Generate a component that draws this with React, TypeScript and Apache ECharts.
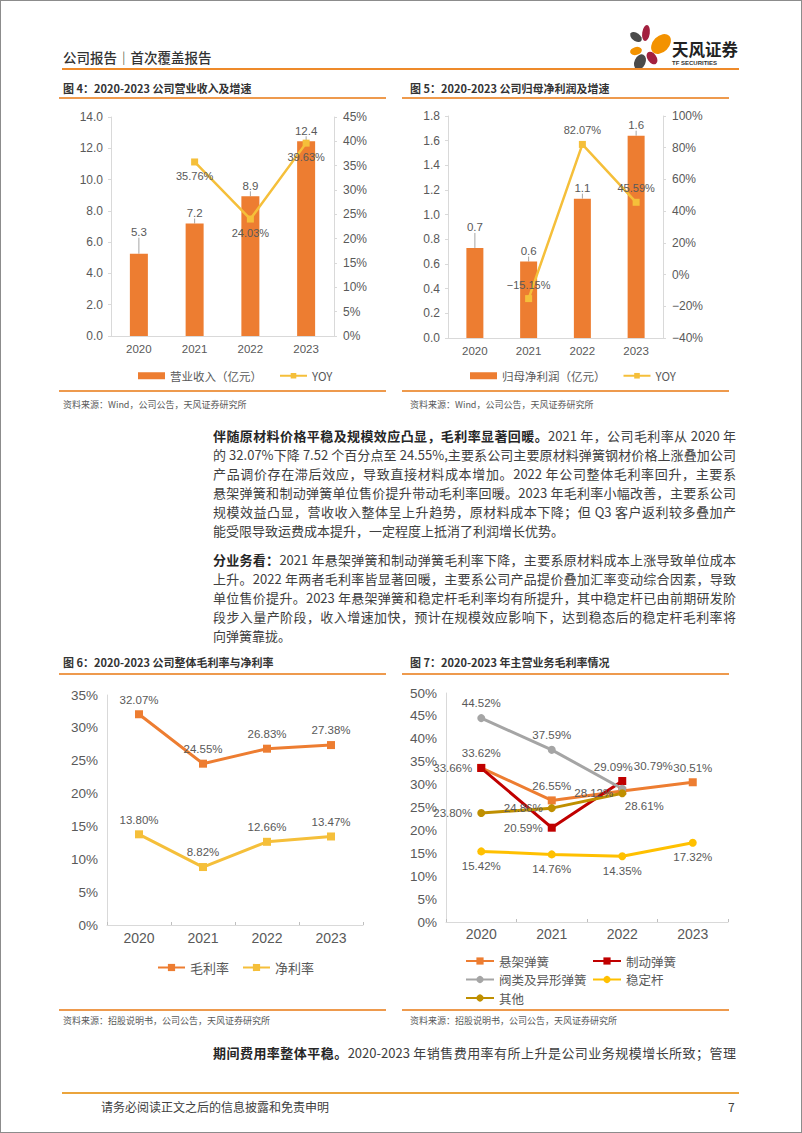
import React, { useEffect, useRef } from "react";
import * as echarts from "echarts";

// ---------- data ----------
const years = ["2020", "2021", "2022", "2023"];
const revenue = [5.26, 7.19, 8.93, 12.45];
const revenueYoy = [null, 35.76, 24.03, 39.63];
const profit = [0.73, 0.62, 1.13, 1.64];
const profitYoy = [null, -15.15, 82.07, 45.59];
const grossMargin = [32.07, 24.55, 26.83, 27.38];
const netMargin = [13.8, 8.82, 12.66, 13.47];
const suspension = [33.66, 26.55, 28.61, 30.51];
const brake = [33.62, 20.59, 30.79, null];
const valve = [44.52, 37.59, 29.09, null];
const stabilizer = [15.42, 14.76, 14.35, 17.32];
const others = [23.8, 24.86, 28.12, null];

const FONT = 'Arial, "Liberation Sans", "Noto Sans CJK SC", sans-serif';
const CJK = '"Noto Sans CJK SC", "Liberation Sans", sans-serif';
const GRAY = "#595959";
const AXIS = "#D9D9D9";
const ORANGE = "#ED7D31";
const GOLD = "#F5BF3A";

const pct = (v: number) => (v < 0 ? "\u2212" + Math.abs(v).toFixed(2) : v.toFixed(2)) + "%";
const axisPct = (v: number) => (v < 0 ? "\u2212" + Math.abs(v) : String(v)) + "%";

// label placement for figure 7 (styling only)
const c7Place: Record<string, any[]> = {
  susp: [["left", [0, 0]], ["top", [0, 0]], ["bottom", [22, 0]], ["top", [0, 0]]],
  brake: [["top", [0, 0]], ["left", [0, 0]], ["top", [31, 0]], ["top", [0, 0]]],
  valve: [["top", [0, 0]], ["top", [0, 0]], ["top", [-9, -7]], ["top", [0, 0]]],
  stab: [["bottom", [0, 0]], ["bottom", [0, 0]], ["bottom", [0, 0]], ["bottom", [0, 0]]],
  other: [["left", [0, 0]], ["left", [0, 0]], ["left", [0, 0]], ["left", [0, 0]]],
};

function withPlace(values: (number | null)[], key: string) {
  return values.map((v, i) =>
    v == null
      ? null
      : { value: v, label: { position: c7Place[key][i][0], offset: c7Place[key][i][1] } }
  );
}

const baseLabel = { color: GRAY, fontFamily: FONT };

function catAxis(gridIndex: number, fontSize: number, margin: number, ticks: boolean) {
  return {
    gridIndex,
    type: "category",
    data: years,
    axisLine: { show: true, lineStyle: { color: AXIS, width: 1 } },
    axisTick: ticks
      ? { show: true, inside: true, length: 3, lineStyle: { color: "#BFBFBF" } }
      : { show: false },
    axisLabel: { ...baseLabel, fontSize, margin },
  };
}

function valAxis(gridIndex: number, min: number, max: number, interval: number, fmt: any, opts: any = {}) {
  return {
    gridIndex,
    type: "value",
    min,
    max,
    interval,
    splitLine: { show: false },
    axisLine: { show: true, lineStyle: { color: AXIS } },
    axisTick: { show: opts.tick !== false, length: 3, lineStyle: { color: AXIS } },
    axisLabel: { ...baseLabel, fontSize: opts.fontSize || 12, margin: opts.margin || 8, formatter: fmt },
    position: opts.position || "left",
  };
}

function lineSeries(name: string, data: any[], color: string, symbol: string, xi: number, yi: number, label: any) {
  return {
    name,
    type: "line",
    xAxisIndex: xi,
    yAxisIndex: yi,
    data,
    symbol,
    symbolSize: 8,
    connectNulls: false,
    lineStyle: { color, width: 3 },
    itemStyle: { color },
    label: {
      show: true,
      ...baseLabel,
      fontSize: 11.5,
      distance: 5,
      formatter: (p: any) => pct(p.value as number),
      ...label,
    },
  };
}

function buildOption() {
  return {
    animation: false,
    textStyle: { fontFamily: FONT },
    grid: [
      { left: 111, top: 117, width: 223, height: 219 },
      { left: 448, top: 116, width: 215, height: 222 },
      { left: 107, top: 695, width: 256, height: 230 },
      { left: 446, top: 693, width: 282, height: 229 },
    ],
    xAxis: [
      catAxis(0, 11.5, 7, false),
      catAxis(1, 11.5, 7, false),
      catAxis(2, 14, 6, true),
      catAxis(3, 14, 5, true),
    ],
    yAxis: [
      valAxis(0, 0, 14, 2, (v: number) => v.toFixed(1)),
      valAxis(0, 0, 45, 5, axisPct, { position: "right", margin: 9 }),
      valAxis(1, 0, 1.8, 0.2, (v: number) => v.toFixed(1)),
      valAxis(1, -40, 100, 20, axisPct, { position: "right", margin: 9 }),
      valAxis(2, 0, 35, 5, axisPct, { tick: false, fontSize: 13.5, margin: 9 }),
      valAxis(3, 0, 50, 5, axisPct, { tick: false, fontSize: 13.5, margin: 9 }),
    ],
    legend: [
      {
        left: 133,
        top: 365,
        itemWidth: 27,
        itemHeight: 7,
        itemGap: 17,
        selectedMode: false,
        textStyle: { color: GRAY, fontSize: 11.5, fontFamily: CJK },
        data: [{ name: "营业收入（亿元）", icon: "rect" }, { name: "YOY" }],
      },
      {
        left: 465,
        top: 365,
        itemWidth: 27,
        itemHeight: 7,
        itemGap: 17,
        selectedMode: false,
        textStyle: { color: GRAY, fontSize: 11.5, fontFamily: CJK },
        data: [{ name: "归母净利润（亿元）", icon: "rect" }, { name: "YOY " }],
      },
      {
        left: 152,
        top: 956,
        itemWidth: 27,
        itemHeight: 9,
        itemGap: 13,
        selectedMode: false,
        textStyle: { color: GRAY, fontSize: 13, fontFamily: CJK },
        data: ["毛利率", "净利率"],
      },
      {
        left: 460,
        top: 949,
        orient: "vertical",
        itemWidth: 28,
        itemHeight: 9,
        itemGap: 4.5,
        selectedMode: false,
        textStyle: { color: GRAY, fontSize: 12.5, lineHeight: 14, fontFamily: CJK },
        data: ["悬架弹簧", "阀类及异形弹簧", "其他"],
      },
      {
        left: 587,
        top: 949,
        orient: "vertical",
        itemWidth: 28,
        itemHeight: 9,
        itemGap: 4.5,
        selectedMode: false,
        textStyle: { color: GRAY, fontSize: 12.5, lineHeight: 14, fontFamily: CJK },
        data: ["制动弹簧", "稳定杆"],
      },
    ],
    series: [
      {
        name: "营业收入（亿元）",
        type: "bar",
        xAxisIndex: 0,
        yAxisIndex: 0,
        data: revenue,
        barWidth: 18,
        itemStyle: { color: ORANGE },
        label: {
          show: true,
          position: "top",
          distance: 5,
          ...baseLabel,
          fontSize: 11.5,
          formatter: (p: any) => (p.value as number).toFixed(1),
        },
        labelLayout: (p: any) => (p.dataIndex === 0 ? { dy: -11 } : {}),
        labelLine: { show: true, lineStyle: { color: "#A6A6A6", width: 1 } },
      },
      {
        ...lineSeries("YOY", revenueYoy, GOLD, "rect", 0, 1, { position: "bottom", fontSize: 11 }),
        symbolSize: 7,
        lineStyle: { color: GOLD, width: 2.5 },
      },
      {
        name: "归母净利润（亿元）",
        type: "bar",
        xAxisIndex: 1,
        yAxisIndex: 2,
        data: profit,
        barWidth: 17,
        itemStyle: { color: ORANGE },
        label: {
          show: true,
          position: "top",
          distance: 5,
          ...baseLabel,
          fontSize: 11.5,
          formatter: (p: any) => (p.value as number).toFixed(1),
        },
        labelLayout: (p: any) => (p.dataIndex === 0 ? { dy: -10 } : {}),
        labelLine: { show: true, lineStyle: { color: "#A6A6A6", width: 1 } },
      },
      {
        ...lineSeries("YOY ", profitYoy, GOLD, "rect", 1, 3, { position: "top", fontSize: 11 }),
        symbolSize: 7,
        lineStyle: { color: GOLD, width: 2.5 },
      },
      lineSeries("毛利率", grossMargin, ORANGE, "rect", 2, 4, { position: "top" }),
      lineSeries("净利率", netMargin, GOLD, "rect", 2, 4, { position: "top" }),
      lineSeries("悬架弹簧", withPlace(suspension, "susp"), ORANGE, "rect", 3, 5, {}),
      lineSeries("制动弹簧", withPlace(brake, "brake"), "#C00000", "rect", 3, 5, {}),
      lineSeries("阀类及异形弹簧", withPlace(valve, "valve"), "#A5A5A5", "circle", 3, 5, {}),
      lineSeries("稳定杆", withPlace(stabilizer, "stab"), "#FFC000", "circle", 3, 5, {}),
      lineSeries("其他", withPlace(others, "other"), "#BF8F00", "circle", 3, 5, {}),
    ],
  };
}

// ---------- page text helpers ----------
function T(props: {
  x: number;
  y: number;
  size: number;
  color?: string;
  weight?: number | string;
  family?: string;
  children: React.ReactNode;
}) {
  const h = Math.round(props.size * 1.5);
  return (
    <div
      style={{
        position: "absolute",
        left: props.x,
        top: props.y - h / 2,
        height: h,
        lineHeight: h + "px",
        fontSize: props.size,
        color: props.color || "#404040",
        fontWeight: props.weight || 400,
        fontFamily: props.family || CJK,
        whiteSpace: "pre",
      }}
    >
      {props.children}
    </div>
  );
}

function HLine(props: { x: number; y: number; w: number; h: number; color: string }) {
  return (
    <div
      style={{
        position: "absolute",
        left: props.x,
        top: props.y - props.h / 2,
        width: props.w,
        height: props.h,
        background: props.color,
      }}
    />
  );
}

function PLine(props: { y: number; last?: boolean; children: React.ReactNode }) {
  return (
    <div
      style={{
        position: "absolute",
        left: 213,
        top: props.y - 10,
        width: 523,
        height: 20,
        lineHeight: "20px",
        fontSize: 13,
        color: "#404040",
        fontFamily: CJK,
        textAlign: "justify",
        textAlignLast: props.last ? "left" : "justify",
        overflow: "hidden",
      }}
    >
      {props.children}
    </div>
  );
}

const B = (p: { children: React.ReactNode }) => (
  <span style={{ fontWeight: 700, color: "#262626" }}>{p.children}</span>
);

function Logo() {
  return (
    <svg
      width={50}
      height={50}
      viewBox="625 24 50 50"
      style={{ position: "absolute", left: 625, top: 24 }}
    >
      <ellipse cx={636} cy={37} rx={6.5} ry={4} fill="#4A4A4A" transform="rotate(35 636 37)" />
      <ellipse cx={646} cy={33} rx={3.8} ry={8} fill="#A3203F" transform="rotate(8 646 33)" />
      <ellipse cx={661} cy={44} rx={8} ry={11.5} fill="#F39200" transform="rotate(45 661 44)" />
      <ellipse cx={636} cy={51} rx={6} ry={4} fill="#F39200" transform="rotate(-15 636 51)" />
      <ellipse cx={640} cy={62} rx={5.5} ry={8} fill="#4A4A4A" transform="rotate(25 640 62)" />
      <ellipse cx={652} cy={58} rx={4.5} ry={7} fill="#A3203F" transform="rotate(-35 652 58)" />
    </svg>
  );
}

export default function App() {
  const ref = useRef<HTMLDivElement>(null);
  useEffect(() => {
    if (!ref.current) return;
    const chart = echarts.init(ref.current, undefined, { renderer: "svg" });
    chart.setOption(buildOption() as any);
    return () => chart.dispose();
  }, []);

  const lineOrange = "#EE9A4D";
  return (
    <div
      style={{
        position: "absolute",
        left: 0,
        top: 0,
        width: 802,
        height: 1133,
        background: "#fff",
        overflow: "hidden",
        boxSizing: "border-box",
        border: "1px solid #8c8c8c",
      }}
    >
      <div ref={ref} style={{ position: "absolute", left: -1, top: -1, width: 802, height: 1133 }} />
      <div style={{ position: "absolute", left: -1, top: -1, width: 802, height: 1133, pointerEvents: "none" }}>
        {/* header */}
        <T x={63} y={57} size={13.5} color="#333" weight={500}>
          公司报告｜首次覆盖报告
        </T>
        <Logo />
        <T x={672} y={49} size={16.5} color="#222" weight={700}>
          天风证券
        </T>
        <T x={672} y={63} size={6} color="#333" weight={700} family={FONT}>
          TF SECURITIES
        </T>
        <HLine x={62} y={69} w={677} h={2} color="#EE8A2A" />

        {/* figure titles top */}
        <T x={63} y={88} size={11} color="#333" weight={700}>
          {"图 4：2020-2023 公司营业收入及增速"}
        </T>
        <T x={410} y={88} size={11} color="#333" weight={700}>
          {"图 5：2020-2023 公司归母净利润及增速"}
        </T>
        <HLine x={59} y={98} w={327} h={1.5} color={lineOrange} />
        <HLine x={402} y={98} w={327} h={1.5} color={lineOrange} />
        <HLine x={59} y={391} w={327} h={1.5} color={lineOrange} />
        <HLine x={402} y={391} w={327} h={1.5} color={lineOrange} />
        <T x={63} y={405} size={9} color={GRAY}>
          资料来源：Wind，公司公告，天风证券研究所
        </T>
        <T x={410} y={405} size={9} color={GRAY}>
          资料来源：Wind，公司公告，天风证券研究所
        </T>

        {/* paragraph 1 */}
        <PLine y={436}>
          <B>伴随原材料价格平稳及规模效应凸显，毛利率显著回暖。</B>2021 年，公司毛利率从 2020 年
        </PLine>
        <PLine y={455}>的 32.07%下降 7.52 个百分点至 24.55%,主要系公司主要原材料弹簧钢材价格上涨叠加公司</PLine>
        <PLine y={474}>产品调价存在滞后效应，导致直接材料成本增加。2022 年公司整体毛利率回升，主要系</PLine>
        <PLine y={493}>悬架弹簧和制动弹簧单位售价提升带动毛利率回暖。2023 年毛利率小幅改善，主要系公司</PLine>
        <PLine y={512}>规模效益凸显，营收收入整体呈上升趋势，原材料成本下降；但 Q3 客户返利较多叠加产</PLine>
        <PLine y={531} last>
          能受限导致运费成本提升，一定程度上抵消了利润增长优势。
        </PLine>

        {/* paragraph 2 */}
        <PLine y={560}>
          <B>分业务看：</B>2021 年悬架弹簧和制动弹簧毛利率下降，主要系原材料成本上涨导致单位成本
        </PLine>
        <PLine y={579}>上升。2022 年两者毛利率皆显著回暖，主要系公司产品提价叠加汇率变动综合因素，导致</PLine>
        <PLine y={598}>单位售价提升。2023 年悬架弹簧和稳定杆毛利率均有所提升，其中稳定杆已由前期研发阶</PLine>
        <PLine y={617}>段步入量产阶段，收入增速加快，预计在规模效应影响下，达到稳态后的稳定杆毛利率将</PLine>
        <PLine y={636} last>
          向弹簧靠拢。
        </PLine>

        {/* figure titles bottom */}
        <T x={63} y={662} size={11} color="#333" weight={700}>
          {"图 6：2020-2023 公司整体毛利率与净利率"}
        </T>
        <T x={410} y={662} size={11} color="#333" weight={700}>
          {"图 7：2020-2023 年主营业务毛利率情况"}
        </T>
        <HLine x={59} y={674} w={327} h={1.5} color={lineOrange} />
        <HLine x={402} y={674} w={327} h={1.5} color={lineOrange} />
        <HLine x={59} y={1010} w={327} h={1.5} color={lineOrange} />
        <HLine x={402} y={1010} w={327} h={1.5} color={lineOrange} />
        <T x={63} y={1021} size={9} color={GRAY}>
          资料来源：招股说明书，公司公告，天风证券研究所
        </T>
        <T x={410} y={1021} size={9} color={GRAY}>
          资料来源：招股说明书，公司公告，天风证券研究所
        </T>

        {/* paragraph 3 */}
        <PLine y={1053}>
          <B>期间费用率整体平稳。</B>2020-2023 年销售费用率有所上升是公司业务规模增长所致；管理
        </PLine>

        {/* footer */}
        <HLine x={62} y={1093} w={677} h={2} color="#EBA43C" />
        <T x={101} y={1107} size={12} color="#404040">
          请务必阅读正文之后的信息披露和免责申明
        </T>
        <T x={728} y={1107} size={12} color="#404040">
          7
        </T>
      </div>
    </div>
  );
}
